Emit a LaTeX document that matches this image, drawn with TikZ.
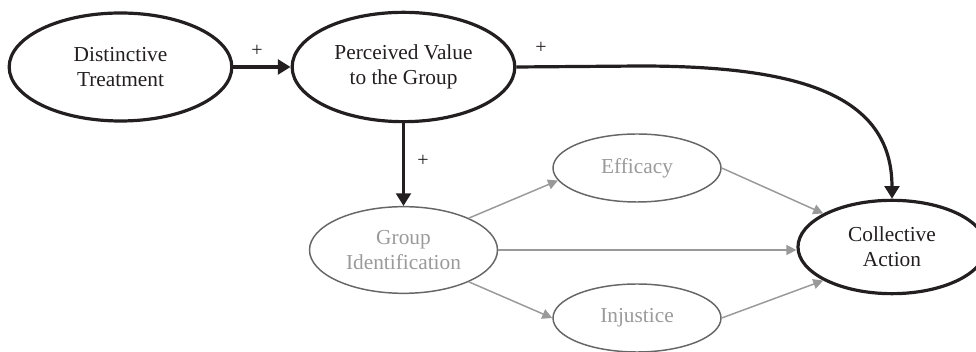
\documentclass[tikz,border=0pt]{standalone}
\usepackage{fontspec}
\setmainfont{Liberation Serif}
\usetikzlibrary{shapes.geometric,arrows.meta}
\definecolor{gline}{HTML}{666666}
\definecolor{gtext}{HTML}{9A9A9A}
\definecolor{garrow}{HTML}{999999}
\definecolor{blk}{HTML}{231F20}
\begin{document}
\begin{tikzpicture}[x=0.75pt,y=-0.75pt,
  txt/.style={font=\fontsize{16}{18.5}\selectfont,align=center},
  bigell/.style={ellipse,draw=blk,line width=2.4pt,inner sep=0pt,txt,text=blk},
  smallell/.style={ellipse,draw=gline,line width=1.1pt,inner sep=0pt,txt,text=gtext},
  barrow/.style={draw=blk,line width=2.4pt,-{Triangle[length=9.5pt,width=11pt]}},
  garr/.style={draw=garrow,line width=1.1pt,-{Triangle[length=7.5pt,width=7.5pt]}},
  plus/.style={font=\fontsize{15}{15}\selectfont,text=blk,inner sep=0pt}]
\useasboundingbox (0,0) rectangle (976,352);
\node[bigell,minimum width=167pt,minimum height=81pt] (DT) at (120.5,67) {Distinctive\\Treatment};
\node[bigell,minimum width=167pt,minimum height=82pt] (PV) at (403.5,67) {Perceived Value\\to the Group};
\node[smallell,minimum width=141pt,minimum height=65pt] (GI) at (403.5,250) {Group\\Identification};
\node[smallell,minimum width=126pt,minimum height=51pt] (EF) at (637,168) {Efficacy};
\node[smallell,minimum width=126pt,minimum height=51pt] (IN) at (637,318) {Injustice};
\node[bigell,minimum width=141pt,minimum height=70pt] (CA) at (892,247) {Collective\\Action};
\draw[barrow] (DT.east) -- (PV.west);
\draw[barrow] (PV.south) -- (GI.north);
\coordinate (bend) at (640,66);
\draw[barrow] (PV.east) -- (bend) .. controls (800,66) and (892,95) .. (CA.north);
\draw[garr] (GI.26) -- (EF.189.5);
\draw[garr] (GI.-26) -- (IN.west);
\draw[garr] (GI.east) -- (CA.west |- GI.east);
\draw[garr] (EF.east) -- (CA.154);
\draw[garr] (IN.east) -- (CA.206);
\node[plus] (p1) at (257,51) {+};
\node[plus] (p2) at (423,161) {+};
\node[plus] (p3) at (541,48) {+};
\end{tikzpicture}
\end{document}
